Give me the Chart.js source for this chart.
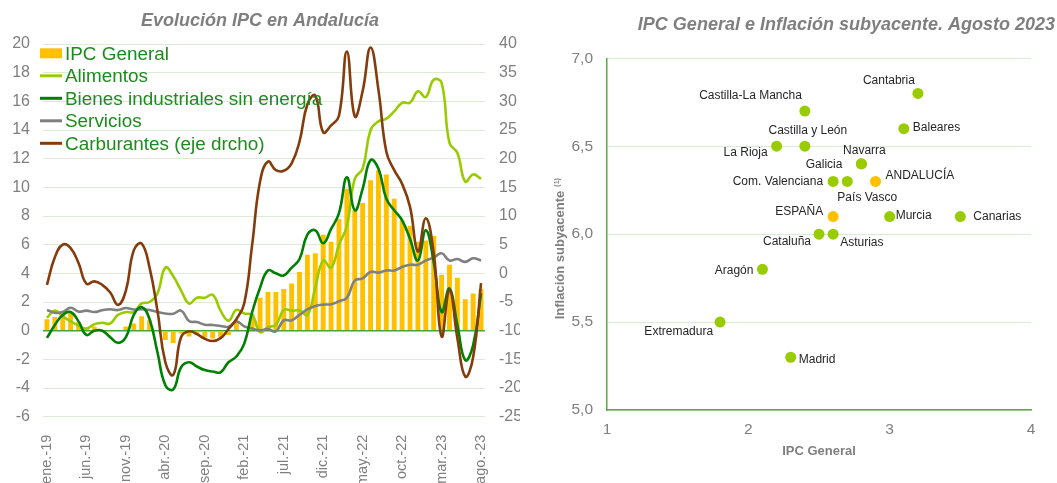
<!DOCTYPE html>
<html>
<head>
<meta charset="utf-8">
<script src="https://cdn.jsdelivr.net/npm/chart.js@4.4.1/dist/chart.umd.min.js"></script>
<style>
  html, body { margin:0; padding:0; background:#fff; width:1057px; height:483px; overflow:hidden; }
  #c1 { position:absolute; left:0; top:0; }
  #c2 { position:absolute; left:537px; top:0; }
</style>
</head>
<body>
<canvas id="c1" width="520" height="483"></canvas>
<canvas id="c2" width="520" height="483"></canvas>
<script>
// ---------- Left chart data ----------
const months = [
  'ene.-19','feb.-19','mar.-19','abr.-19','may.-19','jun.-19','jul.-19','ago.-19','sep.-19','oct.-19','nov.-19','dic.-19',
  'ene.-20','feb.-20','mar.-20','abr.-20','may.-20','jun.-20','jul.-20','ago.-20','sep.-20','oct.-20','nov.-20','dic.-20',
  'ene.-21','feb.-21','mar.-21','abr.-21','may.-21','jun.-21','jul.-21','ago.-21','sep.-21','oct.-21','nov.-21','dic.-21',
  'ene.-22','feb.-22','mar.-22','abr.-22','may.-22','jun.-22','jul.-22','ago.-22','sep.-22','oct.-22','nov.-22','dic.-22',
  'ene.-23','feb.-23','mar.-23','abr.-23','may.-23','jun.-23','jul.-23','ago.-23'
];
const ipcGeneral = [
  0.8,0.95,1.2,1.3,0.6,0.15,0.3,0.05,-0.1,0.0,0.3,0.5,
  1.0,0.72,0.0,-0.65,-0.85,-0.2,-0.4,-0.3,-0.45,-0.55,-0.45,-0.3,
  0.6,0.0,1.2,2.3,2.7,2.7,2.9,3.3,4.1,5.3,5.4,6.7,
  6.2,7.8,9.9,8.4,8.9,10.5,11.2,10.9,9.2,7.7,7.3,6.2,
  6.3,6.6,3.9,4.6,3.7,2.2,2.6,2.9
];
const alimentos = [
  0.9,1.4,1.0,0.65,0.35,0.15,0.45,0.55,0.5,1.1,1.3,1.3,
  1.9,2.0,2.6,4.4,3.8,2.8,1.9,2.3,2.3,2.5,1.4,0.7,
  1.45,1.2,1.1,-0.1,0.25,0.4,1.45,1.4,1.4,1.1,3.0,4.9,
  4.4,6.0,7.3,10.6,11.3,14.0,14.6,14.8,15.3,15.9,15.9,16.7,
  16.3,17.5,17.3,13.1,12.4,10.4,10.9,10.6
];
const bienesIndustriales = [
  -0.5,0.4,1.1,1.3,0.65,-0.3,0.0,0.0,-0.45,-0.85,-0.45,1.1,
  1.65,0.8,-1.5,-3.8,-4.1,-2.55,-2.2,-2.5,-2.75,-2.85,-2.9,-2.2,
  -1.8,-0.9,1.3,3.0,4.2,4.0,3.85,4.4,5.0,6.7,7.0,6.1,
  7.1,8.2,10.7,8.4,9.9,11.9,11.3,9.2,8.4,7.7,6.4,4.9,
  7.0,4.8,1.3,2.95,0.4,-2.05,-1.0,2.6
];
const servicios = [
  1.45,1.25,1.3,1.6,1.33,1.4,1.3,1.42,1.5,1.44,1.58,1.48,
  1.5,1.45,1.3,1.2,1.18,1.4,0.68,0.6,0.42,0.4,0.33,0.28,
  0.65,0.3,0.15,0.02,0.12,-0.05,0.72,0.72,1.1,1.48,1.72,1.82,
  1.85,2.05,2.3,3.5,3.65,4.1,4.05,4.2,4.2,4.45,4.6,4.6,
  4.9,5.1,5.4,4.9,5.0,4.8,5.05,4.9
];
const carburantes = [
  -2.0,2.8,5.0,4.4,1.8,-1.8,-1.4,-2.0,-3.3,-5.5,-3.0,4.0,
  5.2,1.0,-6.5,-15.5,-17.7,-11.1,-10.1,-10.6,-11.4,-11.8,-11.3,-9.7,
  -8.0,-5.2,5.0,16.0,19.5,18.0,17.9,19.2,23.0,29.5,31.0,24.6,
  25.8,27.5,38.7,27.4,31.8,39.4,32.0,21.2,18.0,15.6,11.6,3.8,
  9.6,3.5,-11.0,-2.9,-11.3,-18.0,-14.6,-1.7
];
const leftTicks = [-6,-4,-2,0,2,4,6,8,10,12,14,16,18,20];
const rightTicks = [-25,-20,-15,-10,-5,0,5,10,15,20,25,30,35,40];

// ---------- Right chart data ----------
const regiones = ['Cantabria','Castilla-La Mancha','Baleares','Castilla y León','La Rioja','Navarra','Galicia',
  'Com. Valenciana','País Vasco','ANDALUCÍA','ESPAÑA','Murcia','Canarias','Cataluña','Asturias','Aragón','Extremadura','Madrid'];
const ipcAgosto = [3.2,2.4,3.1,2.4,2.2,2.8,2.8,2.6,2.7,2.9,2.6,3.0,3.5,2.5,2.6,2.1,1.8,2.3];
const subyacenteAgosto = [6.8,6.7,6.6,6.5,6.5,6.4,6.4,6.3,6.3,6.3,6.1,6.1,6.1,6.0,6.0,5.8,5.5,5.3];
const destacadas = ['ANDALUCÍA','ESPAÑA'];
const xTicksR = [1,2,3,4];
const yTicksR = [5.0,5.5,6.0,6.5,7.0];

// label placement (style only): [align, dx, dy]
const labelPlacement = [
  ['right',-3,-13],['right',-3,-15],['left',9,-1],['center',3,-15.5],['right',-9,6.5],['center',3,-13],['right',-19,0.5],
  ['right',-10,0],['center',20,16],['left',10,-6],['right',-10,-5],['left',6,-0.5],['left',13,0],['right',-8,8],
  ['left',7,9],['right',-9,1],['right',-7,10],['left',8,2]
];

const FONT = "'Liberation Sans', Arial, Helvetica, sans-serif";
Chart.defaults.font.family = FONT;
const GRAY = '#7F7F7F';
const LEGEND_GREEN = '#1E8B1E';

// ---------- Left chart ----------
const legendPlugin = {
  id: 'customLegend',
  afterDatasetsDraw(chart) {
    const ctx = chart.ctx;
    ctx.save();
    ctx.font = '18.9px ' + FONT;
    ctx.textBaseline = 'middle';
    ctx.textAlign = 'left';
    chart.data.datasets.forEach((ds, i) => {
      const y = 53.3 + i * 22.5;
      if (ds.type === 'bar') {
        ctx.fillStyle = ds.backgroundColor;
        ctx.fillRect(40, y - 5, 22, 10);
      } else {
        ctx.strokeStyle = ds.borderColor;
        ctx.lineWidth = 3;
        ctx.beginPath(); ctx.moveTo(40, y); ctx.lineTo(62, y); ctx.stroke();
      }
      ctx.fillStyle = LEGEND_GREEN;
      ctx.fillText(ds.label, 65, y + 1);
    });
    ctx.restore();
  }
};

const lineDs = (label, data, color, order, axis) => ({
  type: 'line', label, data, borderColor: color, backgroundColor: color,
  borderWidth: 2.6, pointRadius: 0, tension: 0.45, fill: false, order, yAxisID: axis
});

new Chart(document.getElementById('c1'), {
  type: 'bar',
  data: {
    labels: months,
    datasets: [
      { type: 'bar', label: 'IPC General', data: ipcGeneral, backgroundColor: '#FFC000',
        categoryPercentage: 1, barPercentage: 0.62, order: 10, yAxisID: 'y' },
      lineDs('Alimentos', alimentos, '#99CC00', 4, 'y'),
      lineDs('Bienes industriales sin energía', bienesIndustriales, '#008000', 2, 'y'),
      lineDs('Servicios', servicios, '#808080', 3, 'y'),
      lineDs('Carburantes (eje drcho)', carburantes, '#843C0C', 1, 'y1')
    ]
  },
  options: {
    responsive: false, animation: false,
    layout: { padding: 0 },
    plugins: {
      legend: { display: false }, tooltip: { enabled: false },
      title: { display: true, text: 'Evolución IPC en Andalucía', color: GRAY,
        font: { size: 18, style: 'italic', weight: 'bold' }, padding: { top: 10, bottom: 12.4 } }
    },
    scales: {
      x: {
        grid: { display: false }, border: { display: false },
        ticks: { autoSkip: false, minRotation: 90, maxRotation: 90, padding: 10, color: GRAY,
          font: { size: 14.5 }, callback: (v, i) => (i % 5 === 0 ? months[i] : '') },
        afterFit: s => { s.height = 66.3; }
      },
      y: {
        position: 'left', min: -6, max: 20,
        afterBuildTicks: s => { s.ticks = leftTicks.map(v => ({ value: v })); },
        ticks: { color: GRAY, padding: 13, font: { size: 16 } },
        grid: { drawTicks: false,
          color: c => (c.tick && c.tick.value === 0 ? '#4F9F3A' : '#DCEBD6'),
          lineWidth: c => (c.tick && c.tick.value === 0 ? 1.5 : 1) },
        border: { display: false },
        afterFit: s => { s.width = 43; }
      },
      y1: {
        position: 'right', min: -25, max: 40,
        afterBuildTicks: s => { s.ticks = rightTicks.map(v => ({ value: v })); },
        ticks: { color: GRAY, padding: 14, font: { size: 16 } },
        grid: { display: false, drawTicks: false }, border: { display: false },
        afterFit: s => { s.width = 35; }
      }
    }
  },
  plugins: [legendPlugin]
});

// ---------- Right chart ----------
const scatterDecor = {
  id: 'scatterDecor',
  afterDatasetsDraw(chart) {
    const ctx = chart.ctx;
    const meta = chart.getDatasetMeta(0);
    ctx.save();
    ctx.font = '12px ' + FONT;
    ctx.fillStyle = '#262626';
    ctx.textBaseline = 'middle';
    meta.data.forEach((pt, i) => {
      const [al, dx, dy] = labelPlacement[i];
      ctx.textAlign = al;
      ctx.fillText(regiones[i], pt.x + dx, pt.y + dy);
    });
    // title
    ctx.fillStyle = GRAY;
    ctx.font = 'italic bold 18px ' + FONT;
    ctx.textAlign = 'right';
    ctx.fillText('IPC General e Inflación subyacente. Agosto 2023', chart.width - 2, 25);
    // x axis title
    const ca = chart.chartArea;
    ctx.font = 'bold 13px ' + FONT;
    ctx.textAlign = 'center';
    ctx.fillText('IPC General', (ca.left + ca.right) / 2, 451);
    // y axis title
    ctx.translate(23, 255);
    ctx.rotate(-Math.PI / 2);
    ctx.textAlign = 'center';
    const main = 'Inflación subyacente';
    ctx.fillText(main, 0, 0);
    const w = ctx.measureText(main).width;
    ctx.font = 'bold 7px ' + FONT;
    ctx.textAlign = 'left';
    ctx.fillText('(1)', w / 2 + 4, -3);
    ctx.restore();
  }
};

new Chart(document.getElementById('c2'), {
  type: 'scatter',
  data: {
    datasets: [{
      data: regiones.map((r, i) => ({ x: ipcAgosto[i], y: subyacenteAgosto[i] })),
      pointBackgroundColor: regiones.map(r => (destacadas.includes(r) ? '#FFC000' : '#99CC00')),
      pointBorderWidth: 0, pointRadius: 5.5, pointHoverRadius: 5.5
    }]
  },
  options: {
    responsive: false, animation: false,
    layout: { padding: { left: 0, right: 26, top: 58.3, bottom: 0 } },
    plugins: { legend: { display: false }, tooltip: { enabled: false }, title: { display: false } },
    scales: {
      x: {
        type: 'linear', min: 1, max: 4,
        afterBuildTicks: s => { s.ticks = xTicksR.map(v => ({ value: v })); },
        ticks: { color: GRAY, padding: 10, font: { size: 15.5 } },
        grid: { display: false, drawTicks: false },
        border: { display: true, color: '#5AAA46', width: 1.5 },
        afterFit: s => { s.height = 73; }
      },
      y: {
        min: 5, max: 7,
        afterBuildTicks: s => { s.ticks = yTicksR.map(v => ({ value: v })); },
        ticks: { color: GRAY, padding: 14, font: { size: 15.5 },
          callback: v => Number(v).toFixed(1).replace('.', ',') },
        grid: { color: '#D8EBD5', drawTicks: false },
        border: { display: true, color: '#5AAA46', width: 1.5 },
        afterFit: s => { s.width = 70; }
      }
    }
  },
  plugins: [scatterDecor]
});
</script>
</body>
</html>
